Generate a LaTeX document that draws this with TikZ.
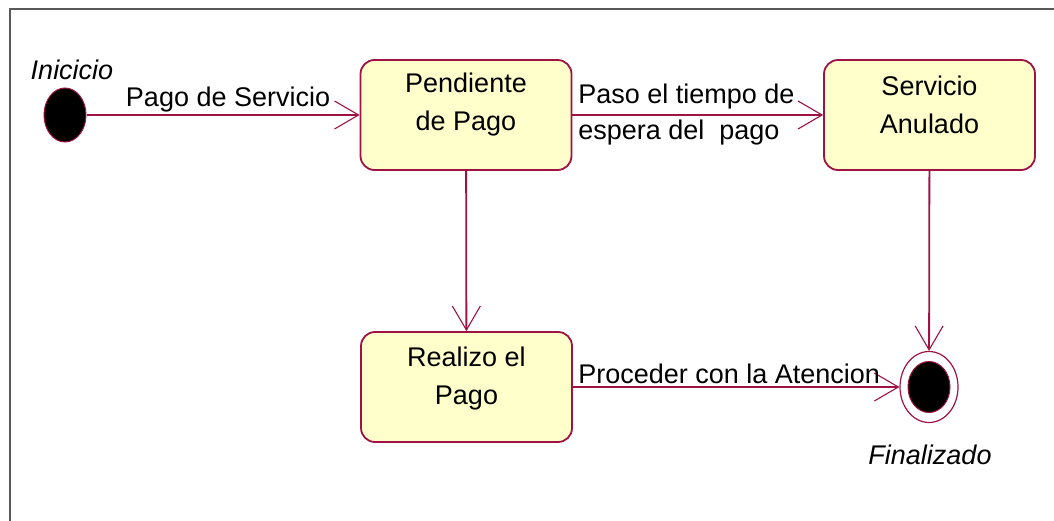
\documentclass[tikz,border=0pt]{standalone}
\usepackage{fontspec}
\setmainfont{Liberation Sans}
\usepackage{tikz}
\usetikzlibrary{
  shapes.geometric, arrows.meta, positioning
}
\definecolor{umlborde}{RGB}{158,18,68}
\definecolor{umlrelleno}{HTML}{FFFFCC}
\tikzstyle{estado} = [
  rectangle, draw=umlborde, fill=umlrelleno,
  line width=1.8pt, rounded corners=14pt,
  minimum width=211pt, minimum height=110pt
]
\tikzstyle{inicial} = [
  ellipse, draw=umlborde, fill=black, line width=1pt,
  minimum width=42pt, minimum height=54pt
]
\tikzstyle{texto} = [font=\fontsize{27}{38}\selectfont, align=center, inner sep=0pt]
\tikzstyle{etiqueta} = [font=\fontsize{27}{36}\selectfont, inner sep=2pt]
\tikzstyle{nombre} = [font=\fontsize{27}{32}\selectfont\itshape, inner sep=0pt]
\tikzstyle{transicion} = [
  draw=umlborde, line width=1.8pt,
  -{Straight Barb[length=24pt, width=28pt, line width=1.1pt]}
]

\begin{document}
\begin{tikzpicture}[x=1pt, y=-1pt]
  \useasboundingbox (0,0) rectangle (1054,521);
  \draw[gray!70!black, line width=1.5pt] (10,521) -- (10,9) -- (1054,9);

  % estados
  \node[inicial] (inicio) at (65,115) {};
  \node[nombre] (inicio-nombre) at (72,70) {Inicicio};

  \node[estado] (pendiente) at (466,115) {};
  \node[texto] (pendiente-txt) at ([yshift=10pt]pendiente.center) {Pendiente\\de Pago};

  \node[estado] (anulado) at (929.5,115) {};
  \node[texto] (anulado-txt) at ([yshift=10pt]anulado.center) {Servicio\\Anulado};

  \node[estado] (realizo) at (466.5,387) {};
  \node[texto] (realizo-txt) at ([yshift=8pt]realizo.center) {Realizo el\\Pago};

  \node[ellipse, draw=umlborde, line width=1.2pt, minimum width=58pt, minimum height=71pt] (fin) at (929,387) {};
  \node[inicial, minimum width=42pt, minimum height=51pt] (fin-punto) at (fin.center) {};
  \node[nombre] (fin-nombre) at (930,455) {Finalizado};

  % transiciones
  \draw[transicion] (inicio) -- node[etiqueta, above, xshift=5pt] {Pago de Servicio} (pendiente);
  \draw[transicion] (pendiente) -- node[etiqueta, pos=0, anchor=west, align=left, xshift=3pt] {Paso el tiempo de\\espera del\ \ pago} (anulado);
  \draw[transicion] (pendiente) -- (realizo);
  \draw[transicion] (anulado) -- (fin);
  \draw[transicion] (realizo) -- node[etiqueta, above, xshift=-7pt] {Proceder con la Atencion} (fin);

\end{tikzpicture}
\end{document}
